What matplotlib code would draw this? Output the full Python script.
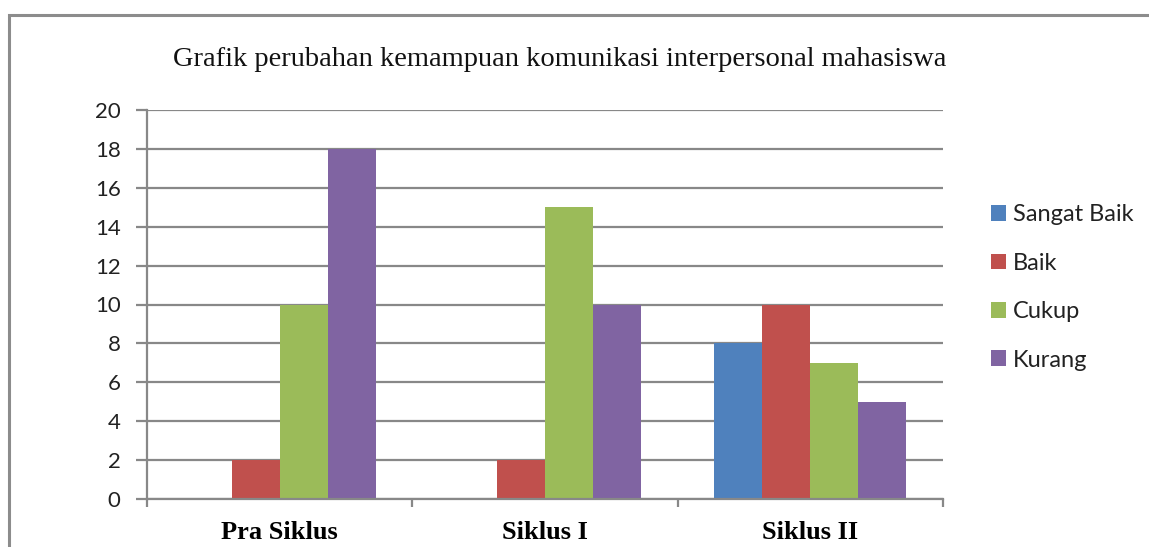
import matplotlib
matplotlib.use("Agg")
import matplotlib.pyplot as plt
from matplotlib.patches import Patch, Rectangle
import numpy as np

categories = ["Pra Siklus", "Siklus I", "Siklus II"]
series_names = ["Sangat Baik", "Baik", "Cukup", "Kurang"]
sangat_baik = [0, 0, 8]
baik = [2, 2, 10]
cukup = [10, 15, 7]
kurang = [18, 10, 5]
series_values = [sangat_baik, baik, cukup, kurang]
colors = ["#4F81BD", "#C0504D", "#9BBB59", "#8064A2"]
y_ticks = list(range(0, 21, 2))
title = "Grafik perubahan kemampuan komunikasi interpersonal mahasiswa"

W, H = 1149, 547
fig = plt.figure(figsize=(W / 100, H / 100), dpi=100)
ax = fig.add_axes([147 / W, 1 - 499 / H, (943 - 147) / W, (499 - 110) / H])

grid_c = "#888888"
x = np.arange(len(categories))
bw = 0.181
for i, (vals, c) in enumerate(zip(series_values, colors)):
    ax.bar(x + (i - 1.5) * bw, vals, width=bw, color=c, zorder=3, linewidth=0)

ax.set_xlim(-0.5, 2.5)
ax.set_ylim(0, 20)
ax.set_yticks(y_ticks)
ax.yaxis.grid(True, color=grid_c, linewidth=1.6, zorder=0)
ax.set_axisbelow(True)
for s in ["top", "right"]:
    ax.spines[s].set_visible(False)
for s in ["left", "bottom"]:
    ax.spines[s].set_color(grid_c)
    ax.spines[s].set_linewidth(1.6)
    ax.spines[s].set_zorder(4)

ax.set_xticks([-0.5, 0.5, 1.5, 2.5])
ax.set_xticklabels([])
ax.set_xticks(x, minor=True)
ax.set_xticklabels(categories, minor=True, fontfamily="Liberation Serif",
                   fontweight="bold", fontsize=19)
ax.tick_params(axis="x", which="major", length=6, width=1.6, color=grid_c)
ax.tick_params(axis="x", which="minor", length=0, pad=16)
ax.tick_params(axis="y", length=8, width=1.6, color=grid_c, pad=11)
for lab in ax.get_yticklabels():
    lab.set_fontfamily("Lato")
    lab.set_fontsize(16)
    lab.set_color("#222222")

fig.text(560 / W, 1 - 60 / H, title, ha="center", va="center",
         fontfamily="Liberation Serif", fontsize=20.5, color="#111111")

handles = [Patch(facecolor=c, edgecolor="none") for c in colors]
leg = fig.legend(handles, series_names, loc="center left",
                 bbox_to_anchor=(979 / W, 1 - 287.5 / H), frameon=False,
                 prop={"family": "Lato", "size": 17},
                 handlelength=0.64, handleheight=0.64, handletextpad=0.3,
                 labelspacing=1.16, borderpad=0)
for t in leg.get_texts():
    t.set_color("#222222")

fig.patches.append(Rectangle((9 / W, -0.2), 1.2, 1 - 15 / H + 0.2,
                             transform=fig.transFigure, fill=False,
                             edgecolor="#8c8c8c", linewidth=2.2))

fig.savefig("out.png", dpi=100)
